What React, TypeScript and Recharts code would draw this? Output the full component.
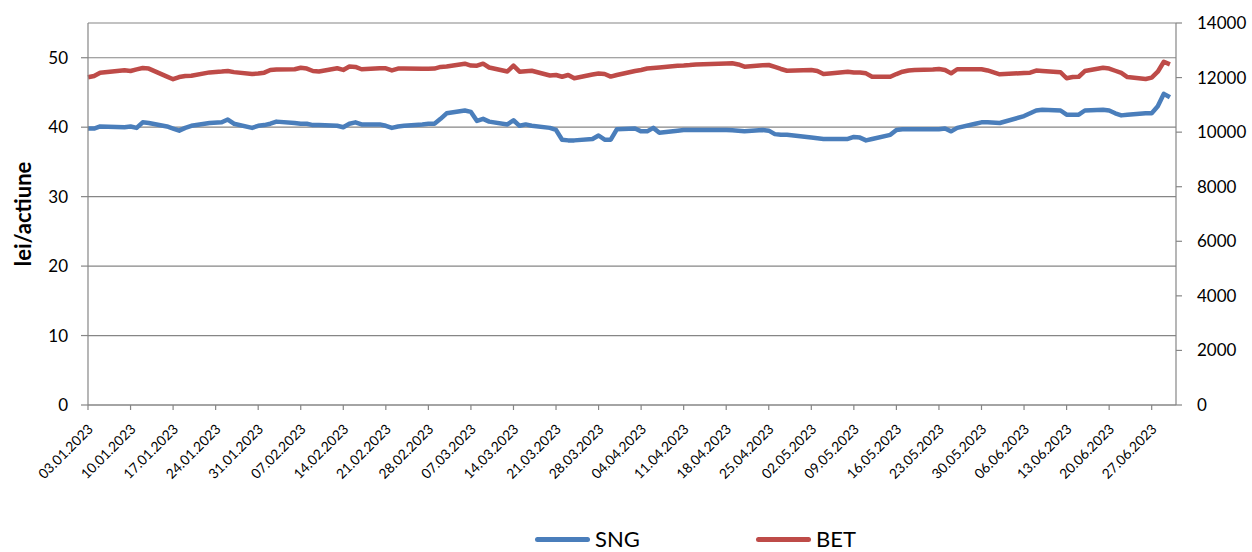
import React from 'react';
import { LineChart, Line, XAxis, YAxis, CartesianGrid, Legend } from 'recharts';

const tradingDates = [
  '03.01.2023','04.01.2023','05.01.2023','09.01.2023','10.01.2023','11.01.2023','12.01.2023','13.01.2023','16.01.2023','17.01.2023','18.01.2023','19.01.2023','20.01.2023','23.01.2023','25.01.2023','26.01.2023','27.01.2023','30.01.2023','31.01.2023',
  '01.02.2023','02.02.2023','03.02.2023','06.02.2023','07.02.2023','08.02.2023','09.02.2023','10.02.2023','13.02.2023','14.02.2023','15.02.2023','16.02.2023','17.02.2023','20.02.2023','21.02.2023','22.02.2023','23.02.2023','24.02.2023','27.02.2023','28.02.2023',
  '01.03.2023','02.03.2023','03.03.2023','06.03.2023','07.03.2023','08.03.2023','09.03.2023','10.03.2023','13.03.2023','14.03.2023','15.03.2023','16.03.2023','17.03.2023','20.03.2023','21.03.2023','22.03.2023','23.03.2023','24.03.2023','27.03.2023','28.03.2023','29.03.2023','30.03.2023','31.03.2023',
  '03.04.2023','04.04.2023','05.04.2023','06.04.2023','07.04.2023','10.04.2023','11.04.2023','12.04.2023','13.04.2023','18.04.2023','19.04.2023','20.04.2023','21.04.2023','24.04.2023','25.04.2023','26.04.2023','27.04.2023','28.04.2023',
  '02.05.2023','03.05.2023','04.05.2023','05.05.2023','08.05.2023','09.05.2023','10.05.2023','11.05.2023','12.05.2023','15.05.2023','16.05.2023','17.05.2023','18.05.2023','19.05.2023','22.05.2023','23.05.2023','24.05.2023','25.05.2023','26.05.2023','29.05.2023','30.05.2023','31.05.2023',
  '02.06.2023','06.06.2023','07.06.2023','08.06.2023','09.06.2023','12.06.2023','13.06.2023','14.06.2023','15.06.2023','16.06.2023','19.06.2023','20.06.2023','21.06.2023','22.06.2023','23.06.2023','26.06.2023','27.06.2023','28.06.2023','29.06.2023','30.06.2023',
];

const sngValues = [
  39.8,39.8,40.1,40.0,40.1,39.9,40.7,40.6,40.1,39.8,39.5,39.9,40.2,40.6,40.7,41.1,40.5,39.9,40.2,
  40.3,40.5,40.8,40.6,40.5,40.5,40.3,40.3,40.2,40.0,40.5,40.7,40.4,40.4,40.2,39.9,40.1,40.2,40.4,40.5,
  40.5,41.2,42.0,42.4,42.2,40.9,41.2,40.8,40.4,41.0,40.2,40.4,40.2,39.9,39.6,38.2,38.1,38.1,38.3,38.8,38.2,38.2,39.7,
  39.8,39.4,39.4,39.9,39.2,39.5,39.6,39.6,39.6,39.6,39.55,39.5,39.4,39.6,39.5,39.0,38.9,38.9,
  38.5,38.4,38.3,38.3,38.3,38.6,38.5,38.1,38.3,38.9,39.6,39.7,39.7,39.7,39.7,39.7,39.8,39.4,39.9,40.5,40.7,40.7,
  40.6,41.6,42.0,42.4,42.5,42.4,41.8,41.8,41.8,42.4,42.5,42.4,42.0,41.7,41.8,42.0,42.0,43.0,44.8,44.3,
];

const betValues = [
  12010,12060,12180,12270,12240,12300,12350,12330,12035,11940,12020,12060,12070,12190,12220,12240,12200,12130,12150,
  12180,12280,12300,12305,12360,12330,12240,12225,12340,12280,12405,12390,12305,12340,12340,12260,12330,12330,12325,12325,
  12330,12390,12405,12510,12440,12435,12510,12370,12225,12435,12215,12235,12250,12075,12095,12030,12095,11975,12110,12150,12130,12035,12095,
  12240,12280,12330,12350,12370,12435,12445,12460,12480,12515,12525,12480,12400,12450,12460,12390,12315,12250,
  12280,12240,12130,12150,12215,12185,12185,12155,12030,12030,12130,12215,12260,12280,12295,12315,12280,12155,12305,12305,12305,12260,
  12120,12170,12180,12255,12240,12195,11975,12020,12030,12240,12360,12330,12250,12170,12020,11950,12000,12215,12580,12485,
];

const xTickLabels = [
  '03.01.2023','10.01.2023','17.01.2023','24.01.2023','31.01.2023','07.02.2023','14.02.2023','21.02.2023','28.02.2023',
  '07.03.2023','14.03.2023','21.03.2023','28.03.2023','04.04.2023','11.04.2023','18.04.2023','25.04.2023','02.05.2023',
  '09.05.2023','16.05.2023','23.05.2023','30.05.2023','06.06.2023','13.06.2023','20.06.2023','27.06.2023',
];

const leftTicks = [0, 10, 20, 30, 40, 50];
const rightTicks = [0, 2000, 4000, 6000, 8000, 10000, 12000, 14000];
const seriesNames = ['SNG', 'BET'];
const seriesColors = ['#4A7EBB', '#BE4B48'];

const BASE = Date.UTC(2023, 0, 3);
const dayOf = (s: string) => {
  const [d, m, y] = s.split('.').map(Number);
  return Math.round((Date.UTC(y, m - 1, d) - BASE) / 86400000);
};

const data = tradingDates.map((d, i) => ({ day: dayOf(d), date: d, SNG: sngValues[i], BET: betValues[i] }));
const xTicks = xTickLabels.map(dayOf);
const labelByDay = new Map<number, string>(xTicks.map((t, i) => [t, xTickLabels[i]]));

const AXIS = '#868686';

const XTick = (props: any) => {
  const { x, y, payload } = props;
  const label = labelByDay.get(payload.value) ?? '';
  return (
    <g transform={`translate(${x + 6},${y + 18})`}>
      <text x={0} y={0} transform="rotate(-45)" textAnchor="end" fontSize={13.8} fill="#000">
        {label}
      </text>
    </g>
  );
};

const YLabel = (props: any) => {
  const vb = props.viewBox || { x: 0, y: 23, width: 88, height: 382 };
  const cx = vb.x + 22;
  const cy = vb.y + vb.height / 2;
  return (
    <text x={cx} y={cy} transform={`rotate(-90 ${cx} ${cy})`} textAnchor="middle" dominantBaseline="central" fontSize={22} fontWeight="bold" fill="#000">
      lei/actiune
    </text>
  );
};

const legendLefts = [535, 756];

const renderLegend = () => (
  <div style={{ position: 'relative', width: 1252, height: 20 }}>
    {seriesNames.map((name, i) => (
      <div key={name} style={{ position: 'absolute', left: legendLefts[i], top: 0, height: 20, display: 'flex', alignItems: 'center' }}>
        <span style={{ display: 'inline-block', width: 55, height: 5, borderRadius: 3, background: seriesColors[i] }} />
        <span style={{ marginLeft: 5, fontSize: 22, lineHeight: '20px', color: '#000' }}>{name}</span>
      </div>
    ))}
  </div>
);

export default function App() {
  return (
    <div style={{ position: 'absolute', left: 0, top: 0, width: 1252, height: 552, background: '#fff', fontFamily: 'Lato, sans-serif' }}>
      <LineChart width={1252} height={552} data={data} margin={{ top: 23, right: 0, bottom: 0, left: 0 }}>
        <CartesianGrid yAxisId="left" vertical={false} stroke={AXIS} strokeWidth={1.2} />
        <XAxis
          dataKey="day"
          type="number"
          domain={[0, 179]}
          ticks={xTicks}
          interval={0}
          height={147}
          tickSize={5}
          tickMargin={2}
          axisLine={{ stroke: AXIS, strokeWidth: 1.2 }}
          tickLine={{ stroke: AXIS, strokeWidth: 1.2 }}
          tick={<XTick />}
        />
        <YAxis
          yAxisId="left"
          domain={[0, 55]}
          ticks={leftTicks}
          width={88}
          tickSize={7}
          tickMargin={13}
          axisLine={{ stroke: AXIS, strokeWidth: 1.2 }}
          tickLine={{ stroke: AXIS, strokeWidth: 1.2 }}
          tick={{ fill: '#000', fontSize: 17 }}
          label={YLabel}
        />
        <YAxis
          yAxisId="right"
          orientation="right"
          domain={[0, 14000]}
          ticks={rightTicks}
          width={76}
          tickSize={6}
          tickMargin={15}
          axisLine={{ stroke: AXIS, strokeWidth: 1.2 }}
          tickLine={{ stroke: AXIS, strokeWidth: 1.2 }}
          tick={{ fill: '#000', fontSize: 17 }}
        />
        <Legend
          layout="horizontal"
          verticalAlign="middle"
          align="center"
          content={renderLegend}
          wrapperStyle={{ top: 529, left: 0, width: 1252, height: 20 }}
        />
        <Line yAxisId="left" type="linear" dataKey="SNG" stroke={seriesColors[0]} strokeWidth={4.5} dot={false} strokeLinejoin="round" isAnimationActive={false} />
        <Line yAxisId="right" type="linear" dataKey="BET" stroke={seriesColors[1]} strokeWidth={4.5} dot={false} strokeLinejoin="round" isAnimationActive={false} />
      </LineChart>
    </div>
  );
}
